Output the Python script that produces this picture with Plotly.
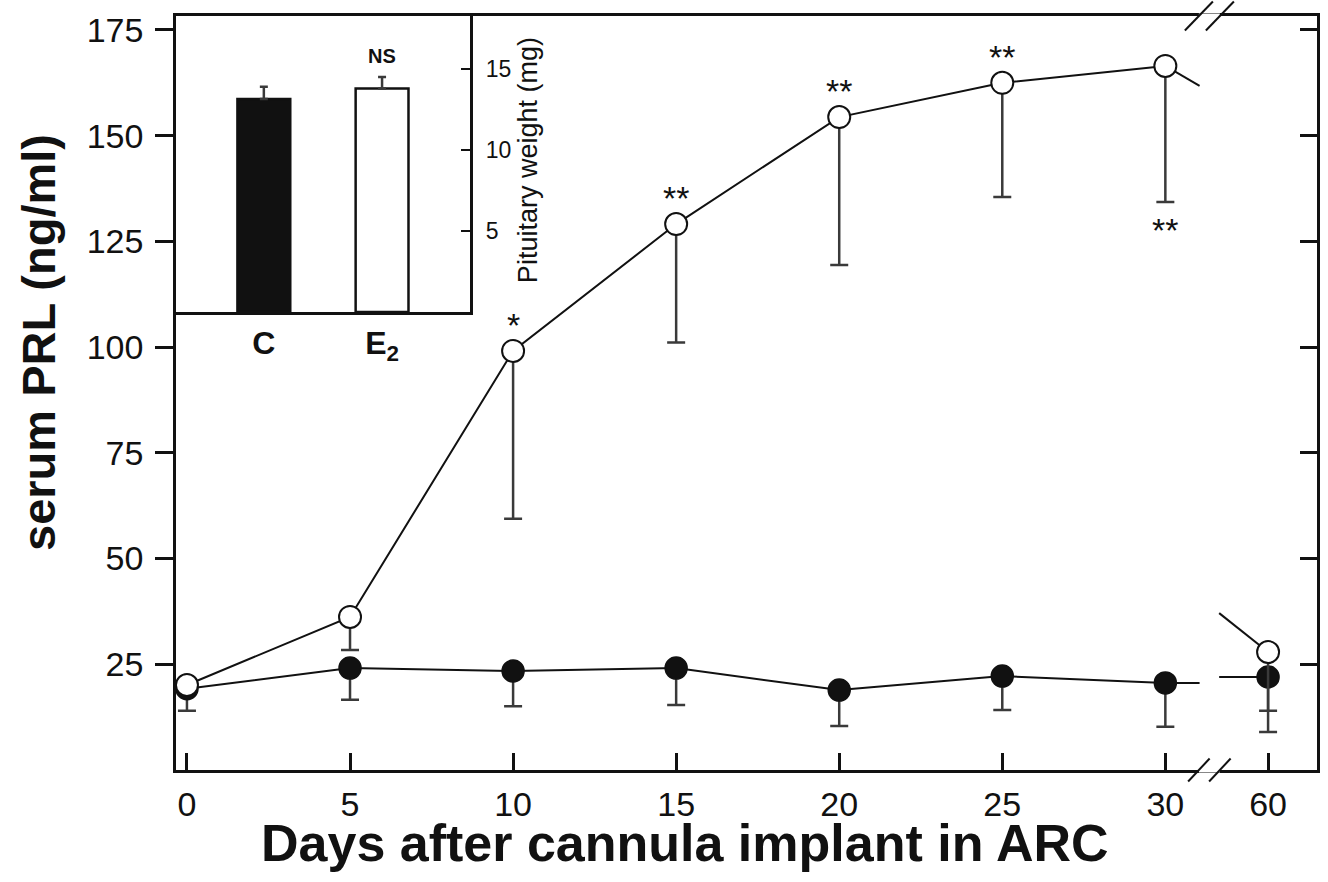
import plotly.graph_objects as go

# ---------------- data ----------------
days = [0, 5, 10, 15, 20, 25, 30, 60]
day_labels = ["0", "5", "10", "15", "20", "25", "30", "60"]
e2_mean = [20.1, 36.2, 99.1, 129.1, 154.4, 162.5, 166.5, 27.9]
e2_err = [0.0, 7.8, 39.7, 28.0, 35.0, 27.0, 32.2, 13.9]
ctrl_mean = [19.2, 24.1, 23.4, 24.1, 18.9, 22.2, 20.6, 22.0]
ctrl_err = [5.2, 7.5, 8.3, 8.7, 8.5, 8.0, 10.4, 13.0]
e2_sig_above = ["", "", "*", "**", "**", "**", "", ""]
e2_sig_below = ["", "", "", "", "", "", "**", ""]

inset_groups = ["C", "E<sub>2</sub>"]
inset_weight = [13.15, 13.8]
inset_err = [0.75, 0.7]
inset_sig = ["", "NS"]

y_ticks = [25, 50, 75, 100, 125, 150, 175]
inset_ticks = [5, 10, 15]

# ---------------- broken axis mapping ----------------
LAST_CONT_DAY = 30
GAP_UNITS = 3.15     # axis units between day 30 and day 60 tick
BREAK_POS = 31.35    # where the break marks sit


def pos(d):
    return d if d <= LAST_CONT_DAY else LAST_CONT_DAY + GAP_UNITS


xpos = [pos(d) for d in days]
n = len(days)
cut = days.index(LAST_CONT_DAY) + 1


def with_gap(vals):
    return list(vals[:cut]) + [None] + list(vals[cut:])


FONT = "Liberation Sans, Arial, Helvetica, sans-serif"
BLACK = "#111111"
ERR = "#3a3a3a"

fig = go.Figure()

# ---- stub lines at the axis break ----
STUB_OUT = 1.05
STUB_IN = 1.5
OPEN_DROP_OUT = 4.7
OPEN_RISE_IN = 9.2
i30, i60 = cut - 1, cut
stub_style = dict(mode="lines", line=dict(color=BLACK, width=2), showlegend=False, hoverinfo="skip")
fig.add_trace(go.Scatter(x=[xpos[i30], xpos[i30] + STUB_OUT], y=[ctrl_mean[i30], ctrl_mean[i30]], **stub_style))
fig.add_trace(go.Scatter(x=[xpos[i60] - STUB_IN, xpos[i60]], y=[ctrl_mean[i60], ctrl_mean[i60]], **stub_style))
fig.add_trace(go.Scatter(x=[xpos[i30], xpos[i30] + STUB_OUT], y=[e2_mean[i30], e2_mean[i30] - OPEN_DROP_OUT], **stub_style))
fig.add_trace(go.Scatter(x=[xpos[i60] - STUB_IN, xpos[i60]], y=[e2_mean[i60] + OPEN_RISE_IN, e2_mean[i60]], **stub_style))

# ---- control (filled) ----
fig.add_trace(go.Scatter(
    x=with_gap(xpos), y=with_gap(ctrl_mean), mode="lines+markers", connectgaps=False,
    line=dict(color=BLACK, width=2),
    marker=dict(size=22, color=BLACK, line=dict(color=BLACK, width=1.5)),
    error_y=dict(type="data", symmetric=False, array=with_gap([0] * n), arrayminus=with_gap(ctrl_err),
                 color=ERR, thickness=2.5, width=9),
    showlegend=False, hoverinfo="skip"))

# ---- E2 (open) ----
fig.add_trace(go.Scatter(
    x=with_gap(xpos), y=with_gap(e2_mean), mode="lines+markers", connectgaps=False,
    line=dict(color=BLACK, width=2),
    marker=dict(size=22, color="white", line=dict(color=BLACK, width=2)),
    error_y=dict(type="data", symmetric=False, array=with_gap([0] * n), arrayminus=with_gap(e2_err),
                 color=ERR, thickness=2.5, width=9),
    showlegend=False, hoverinfo="skip"))

# invisible trace for right mirrored axis
fig.add_trace(go.Scatter(x=[0], y=[0], yaxis="y3", mode="markers", marker=dict(opacity=0),
                         showlegend=False, hoverinfo="skip"))

# ---- inset bars ----
fig.add_trace(go.Bar(
    x=[0, 1], y=inset_weight, xaxis="x2", yaxis="y2", width=0.447,
    marker=dict(color=[BLACK, "white"], line=dict(color=BLACK, width=2.5)),
    error_y=dict(type="data", symmetric=False, array=inset_err, arrayminus=[0, 0],
                 color=ERR, thickness=2.5, width=4),
    showlegend=False, hoverinfo="skip"))

annotations = []
for i in range(n):
    if e2_sig_above[i]:
        annotations.append(dict(x=xpos[i], y=e2_mean[i], xref="x", yref="y", text=e2_sig_above[i],
                                showarrow=False, yshift=26, xanchor="center", yanchor="middle",
                                font=dict(family=FONT, size=34, color=BLACK)))
    if e2_sig_below[i]:
        annotations.append(dict(x=xpos[i], y=e2_mean[i] - e2_err[i], xref="x", yref="y", text=e2_sig_below[i],
                                showarrow=False, yshift=-28, xanchor="center", yanchor="middle",
                                font=dict(family=FONT, size=34, color=BLACK)))
for i, s in enumerate(inset_sig):
    if s:
        annotations.append(dict(x=i, y=inset_weight[i] + inset_err[i], xref="x2", yref="y2", text="<b>%s</b>" % s,
                                showarrow=False, yshift=21, xanchor="center", yanchor="middle",
                                font=dict(family=FONT, size=20, color=BLACK)))

annotations.append(dict(text="<b>Days after cannula implant in ARC</b>", x=0.446, y=-0.097, xref="paper", yref="paper",
                        xanchor="center", yanchor="middle",
                        showarrow=False, font=dict(family=FONT, size=52, color=BLACK)))
annotations.append(dict(text="<b>serum PRL (ng/ml)</b>", x=-0.121, y=0.5676, xref="paper", yref="paper",
                        xanchor="center", yanchor="middle",
                        textangle=-90, showarrow=False, font=dict(family=FONT, size=47, color=BLACK)))
annotations.append(dict(text="Pituitary weight (mg)", x=0.3086, y=0.809, xref="paper", yref="paper",
                        xanchor="center", yanchor="middle",
                        textangle=-90, showarrow=False, font=dict(family=FONT, size=27, color=BLACK)))

# break marks
shapes = []
for yanc, h, dx in [(0, 11.5, 21.5), (1, 14.5, 28)]:
    shapes.append(dict(type="line", xref="x", yref="paper", xsizemode="pixel", ysizemode="pixel",
                       xanchor=BREAK_POS, yanchor=yanc, x0=-10.5, x1=10.5, y0=0, y1=0,
                       line=dict(color="white", width=5)))
    for off in (-10.5, 10.5):
        shapes.append(dict(type="line", xref="x", yref="paper", xsizemode="pixel", ysizemode="pixel",
                           xanchor=BREAK_POS, yanchor=yanc, x0=off - dx / 2, x1=off + dx / 2, y0=-h, y1=h,
                           line=dict(color=BLACK, width=2)))

axis_common = dict(showgrid=False, zeroline=False, linecolor=BLACK, linewidth=2.5, tickcolor=BLACK,
                   tickwidth=2.5, tickfont=dict(family=FONT, size=34, color=BLACK))

fig.update_layout(
    width=1328, height=882,
    margin=dict(l=176, r=8, t=16, b=112),
    paper_bgcolor="white", plot_bgcolor="white",
    showlegend=False,
    xaxis=dict(domain=[0, 1], range=[-0.336, 34.65], tickvals=xpos, ticktext=day_labels,
               ticks="inside", ticklen=17, showline=True, mirror=True, ticklabelstandoff=2, **axis_common),
    yaxis=dict(domain=[0, 1], range=[0, 178.3], tickvals=y_ticks, ticks="outside", ticklen=18,
               showline=True, mirror=True, ticklabelstandoff=5, **axis_common),
    yaxis3=dict(overlaying="y", side="right", anchor="x", range=[0, 178.3], tickvals=y_ticks, ticks="inside",
                ticklen=17, showticklabels=False, showline=False, showgrid=False, zeroline=False,
                tickcolor=BLACK, tickwidth=2.5),
    xaxis2=dict(domain=[0, 0.258], anchor="y2", range=[-0.743, 1.747], tickvals=[0, 1], ticktext=inset_groups,
                ticks="", showline=True, mirror=True, linecolor=BLACK, linewidth=2.5, showgrid=False,
                zeroline=False, ticklabelstandoff=1,
                tickfont=dict(family=FONT, size=32, color=BLACK, weight="bold")),
    yaxis2=dict(domain=[0.6074, 1], anchor="x2", side="right", range=[0, 18.27], tickvals=inset_ticks,
                ticks="inside", ticklen=10, tickwidth=2, tickcolor=BLACK, showline=True, mirror=True,
                linecolor=BLACK, linewidth=2.5, showgrid=False, zeroline=False, ticklabelstandoff=8,
                tickfont=dict(family=FONT, size=23, color=BLACK)),
    annotations=annotations,
    shapes=shapes,
)

fig.write_html("out.html")
